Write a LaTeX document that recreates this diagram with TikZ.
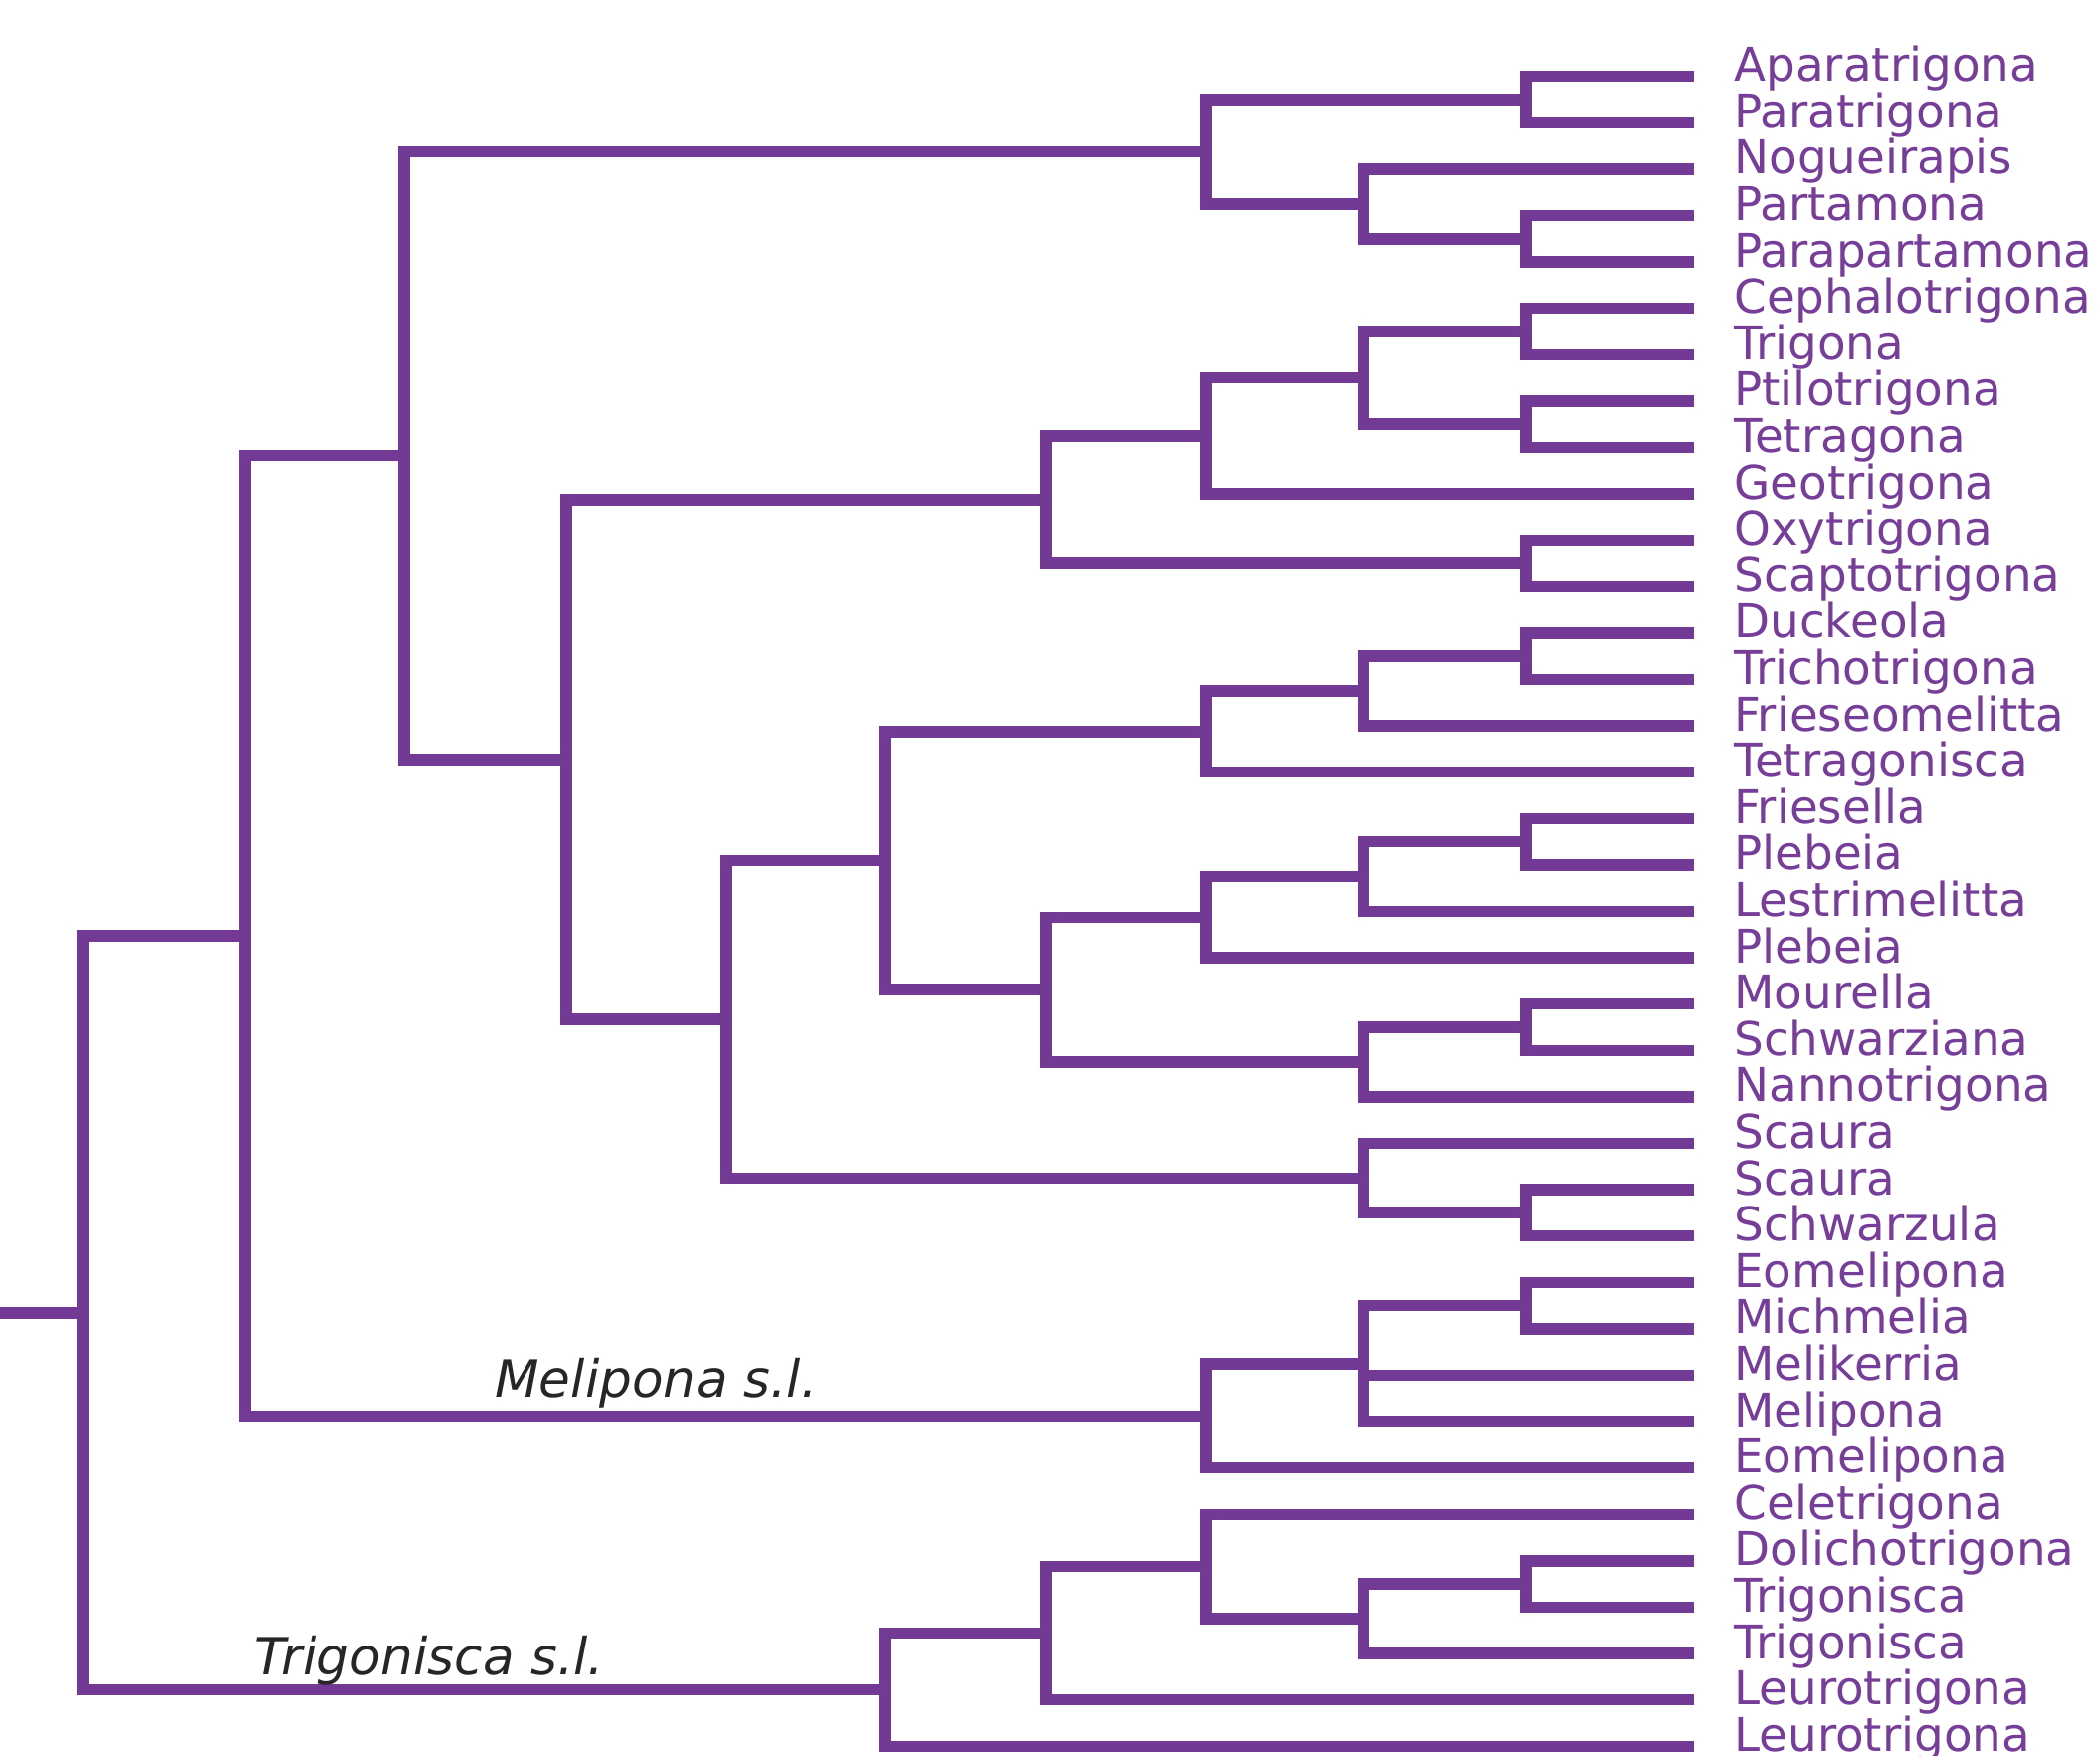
\documentclass[tikz,border=0pt]{standalone}
\usepackage{fontspec}
\setmainfont{DejaVu Sans}
\definecolor{purp}{RGB}{114,58,148}
\definecolor{lbl}{RGB}{118,62,152}
\definecolor{ital}{RGB}{38,38,38}
\begin{document}
\begin{tikzpicture}[x=0.5pt,y=-23.3pt,
  branch/.style={draw=purp,line width=5.75pt,line join=miter,line cap=butt},
  taxon/.style={anchor=base west,inner sep=0pt,text=lbl,font=\fontsize{23.4pt}{23.4pt}\selectfont},
  clade/.style={anchor=base west,inner sep=0pt,text=ital,font=\fontsize{25.8pt}{25.8pt}\selectfont\itshape}]
\useasboundingbox (0pt,0pt) rectangle (1055pt,-881.5pt);
\begin{scope}[yshift=-38.35pt]
\foreach \nm [count=\i from 0] in {Aparatrigona,Paratrigona,Nogueirapis,Partamona,Parapartamona,Cephalotrigona,Trigona,Ptilotrigona,Tetragona,Geotrigona,Oxytrigona,Scaptotrigona,Duckeola,Trichotrigona,Frieseomelitta,Tetragonisca,Friesella,Plebeia,Lestrimelitta,Plebeia,Mourella,Schwarziana,Nannotrigona,Scaura,Scaura,Schwarzula,Eomelipona,Michmelia,Melikerria,Melipona,Eomelipona,Celetrigona,Dolichotrigona,Trigonisca,Trigonisca,Leurotrigona,Leurotrigona}{
  \coordinate (e\i) at (1702,\i);
  \node[taxon] (t\i) at (1742,\i+0.107) {\nm};
}
\coordinate (A) at (1533,0.5);
\coordinate (B) at (1533,3.5);
\coordinate (C) at (1370,2.75);
\coordinate (D) at (1212,1.625);
\coordinate (E) at (1533,5.5);
\coordinate (F) at (1533,7.5);
\coordinate (G) at (1370,6.5);
\coordinate (H) at (1212,7.75);
\coordinate (I) at (1533,10.5);
\coordinate (J) at (1051,9.125);
\coordinate (K) at (1533,12.5);
\coordinate (L) at (1370,13.25);
\coordinate (M) at (1212,14.125);
\coordinate (N) at (1533,16.5);
\coordinate (O) at (1370,17.25);
\coordinate (P) at (1212,18.125);
\coordinate (Q) at (1533,20.5);
\coordinate (R) at (1370,21.25);
\coordinate (S) at (1051,19.6875);
\coordinate (T) at (889,16.90625);
\coordinate (U) at (1533,24.5);
\coordinate (V) at (1370,23.75);
\coordinate (W) at (729,20.328125);
\coordinate (X) at (569,14.7265625);
\coordinate (Y) at (406,8.17578125);
\coordinate (Z1) at (1533,26.5);
\coordinate (Z2) at (1370,27.75);
\coordinate (Z3) at (1212,28.875);
\coordinate (AA) at (246,18.525390625);
\coordinate (BB) at (1533,32.5);
\coordinate (CC) at (1370,33.25);
\coordinate (DD) at (1212,32.125);
\coordinate (EE) at (1051,33.5625);
\coordinate (FF) at (889,34.78125);
\coordinate (root) at (83,26.6533);
\coordinate (stub) at (0,26.6533);
% branches
\foreach \p/\c in {A/e0,A/e1,B/e3,B/e4,C/e2,C/B,D/A,D/C,Y/D,
  E/e5,E/e6,F/e7,F/e8,G/E,G/F,H/G,H/e9,I/e10,I/e11,J/H,J/I,X/J,
  K/e12,K/e13,L/K,L/e14,M/L,M/e15,N/e16,N/e17,O/N,O/e18,P/O,P/e19,
  Q/e20,Q/e21,R/Q,R/e22,S/P,S/R,T/M,T/S,U/e24,U/e25,V/e23,V/U,W/T,W/V,
  X/W,Y/X,AA/Y,AA/Z3,Z1/e26,Z1/e27,Z2/Z1,Z2/e28,Z2/e29,Z3/Z2,Z3/e30,
  BB/e32,BB/e33,CC/BB,CC/e34,DD/e31,DD/CC,EE/DD,EE/e35,FF/EE,FF/e36,
  root/AA,root/FF}{
  \draw[branch] (\p) |- (\c);
}
\draw[branch] (stub) -- (root);
\node[clade] (melip) at (497,28.875) [yshift=9.6pt] {Melipona s.l.};
\node[clade] (trigs) at (255,34.78125) [yshift=7.75pt] {Trigonisca s.l.};
\end{scope}
\end{tikzpicture}
\end{document}
